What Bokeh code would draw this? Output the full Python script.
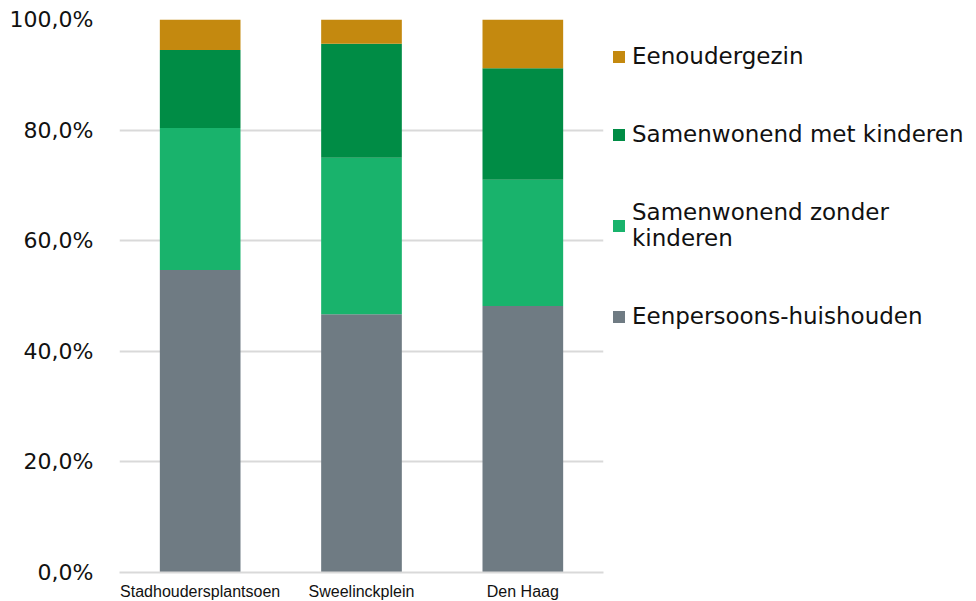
from bokeh.plotting import figure
from bokeh.models import Range1d, FactorRange, Legend, LegendItem
from bokeh.embed import file_html
from bokeh.resources import INLINE

categories = ["Stadhoudersplantsoen", "Sweelinckplein", "Den Haag"]
series_names = ["Eenpersoons-huishouden", "Samenwonend zonder\nkinderen",
                "Samenwonend met kinderen", "Eenoudergezin"]
eenpersoons = [54.7, 46.7, 48.2]
samen_zonder = [25.7, 28.3, 22.8]
samen_met = [14.1, 20.6, 20.2]
eenouder = [5.5, 4.4, 8.8]
colors = ["#6F7B83", "#19B36C", "#008C45", "#C4890F"]
y_ticks = [0, 20, 40, 60, 80, 100]
y_tick_labels = ["0,0%", "20,0%", "40,0%", "60,0%", "80,0%", "100,0%"]

data = {"cat": categories, "s0": eenpersoons, "s1": samen_zonder,
        "s2": samen_met, "s3": eenouder}
keys = ["s0", "s1", "s2", "s3"]

p = figure(x_range=FactorRange(*categories, range_padding=0), y_range=Range1d(0, 100),
           frame_width=484, frame_height=553, output_backend="svg", toolbar_location=None,
           min_border_left=119, min_border_right=0, min_border_top=19, min_border_bottom=24)
p.outline_line_color = None
p.background_fill_color = "white"
p.border_fill_color = "white"

renderers = p.vbar_stack(keys, x="cat", width=0.5, color=colors, line_color=None, source=data)

p.xgrid.grid_line_color = None
p.ygrid.grid_line_color = "#D9D9D9"
p.ygrid.grid_line_width = 2
p.yaxis.ticker = y_ticks
p.yaxis.major_label_overrides = {t: l for t, l in zip(y_ticks, y_tick_labels)}
p.yaxis.axis_line_color = None
p.yaxis.major_tick_line_color = None
p.yaxis.minor_tick_line_color = None
p.yaxis.major_label_standoff = 20
p.yaxis.major_label_text_font = "DejaVu Sans"
p.yaxis.major_label_text_font_size = "22px"
p.yaxis.major_label_text_color = "#111111"

p.xaxis.axis_line_color = "#D9D9D9"
p.xaxis.axis_line_width = 2
p.xaxis.major_tick_line_color = None
p.xaxis.minor_tick_line_color = None
p.xaxis.major_label_standoff = 4
p.xaxis.major_label_text_font = "Liberation Sans"
p.xaxis.major_label_text_font_size = "16px"
p.xaxis.major_label_text_color = "#111111"

items = [LegendItem(label=series_names[i], renderers=[renderers[i]]) for i in [3, 2, 1, 0]]
legend = Legend(items=items, location="top_left", orientation="vertical",
                glyph_width=15, glyph_height=15, label_standoff=6, spacing=52,
                margin=8, padding=0, border_line_color=None, background_fill_alpha=0,
                title=" ", title_text_font_size="2px", title_standoff=14,
                label_text_font="DejaVu Sans", label_text_font_size="23px",
                label_text_color="#111111")
p.add_layout(legend, "right")

open("out.html", "w").write(file_html(p, INLINE))
